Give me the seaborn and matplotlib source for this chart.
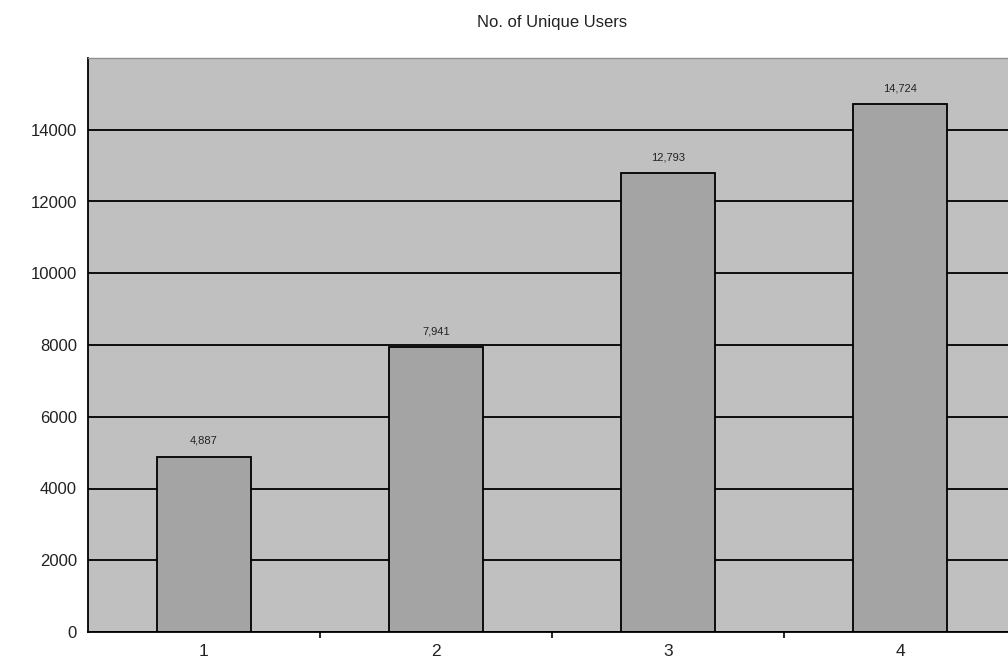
import matplotlib
matplotlib.use("Agg")
import matplotlib.pyplot as plt
import seaborn as sns
import pandas as pd

categories = ["1", "2", "3", "4"]
users = [4887, 7941, 12793, 14724]
value_labels = ["4,887", "7,941", "12,793", "14,724"]
ytick_values = [0, 2000, 4000, 6000, 8000, 10000, 12000, 14000]

sns.set_theme(style="white")
plt.rcParams['font.family'] = ['Liberation Sans', 'DejaVu Sans']

df = pd.DataFrame({"cat": categories, "users": users})

fig = plt.figure(figsize=(10.08, 6.66), dpi=100)
ax = fig.add_axes([88 / 1008, 1 - 632 / 666, (1016 - 88) / 1008, (632 - 58) / 666])
ax.set_facecolor("#C0C0C0")

sns.barplot(data=df, x="cat", y="users", ax=ax, color="#A4A4A4",
            edgecolor="black", linewidth=1.3, width=0.405, saturation=1)

ax.set_xlim(-0.5, 3.5)
ax.set_ylim(0, 16000)
ax.set_yticks(ytick_values)
ax.set_yticklabels([str(v) for v in ytick_values], fontsize=12, color="#222222")
ax.yaxis.grid(True, color="black", linewidth=1.3)
ax.set_axisbelow(True)
ax.tick_params(axis="y", length=0, pad=8)
ax.tick_params(axis="x", which="both", bottom=True)
ax.tick_params(axis="x", which="major", length=0, labelsize=12.5, labelcolor="#222222", pad=9)
ax.set_xticks([0.5, 1.5, 2.5], minor=True)
ax.tick_params(axis="x", which="minor", length=4, width=1.2, color="black", direction="out")
ax.set_xlabel("")
ax.set_ylabel("")

for i, (v, lab) in enumerate(zip(users, value_labels)):
    ax.text(i, v + 300, lab, ha="center", va="bottom", fontsize=8, color="#222222")

for s in ["left", "bottom"]:
    ax.spines[s].set_color("black")
    ax.spines[s].set_linewidth(1.3)
ax.spines["top"].set_color("#909090")
ax.spines["top"].set_linewidth(1.0)
ax.spines["right"].set_visible(False)

fig.text((88 + 1016) / 2 / 1008, 1 - 22 / 666, "No. of Unique Users",
         ha="center", va="center", fontsize=12, color="#222222")

fig.savefig("out.png", dpi=100, facecolor="white")
